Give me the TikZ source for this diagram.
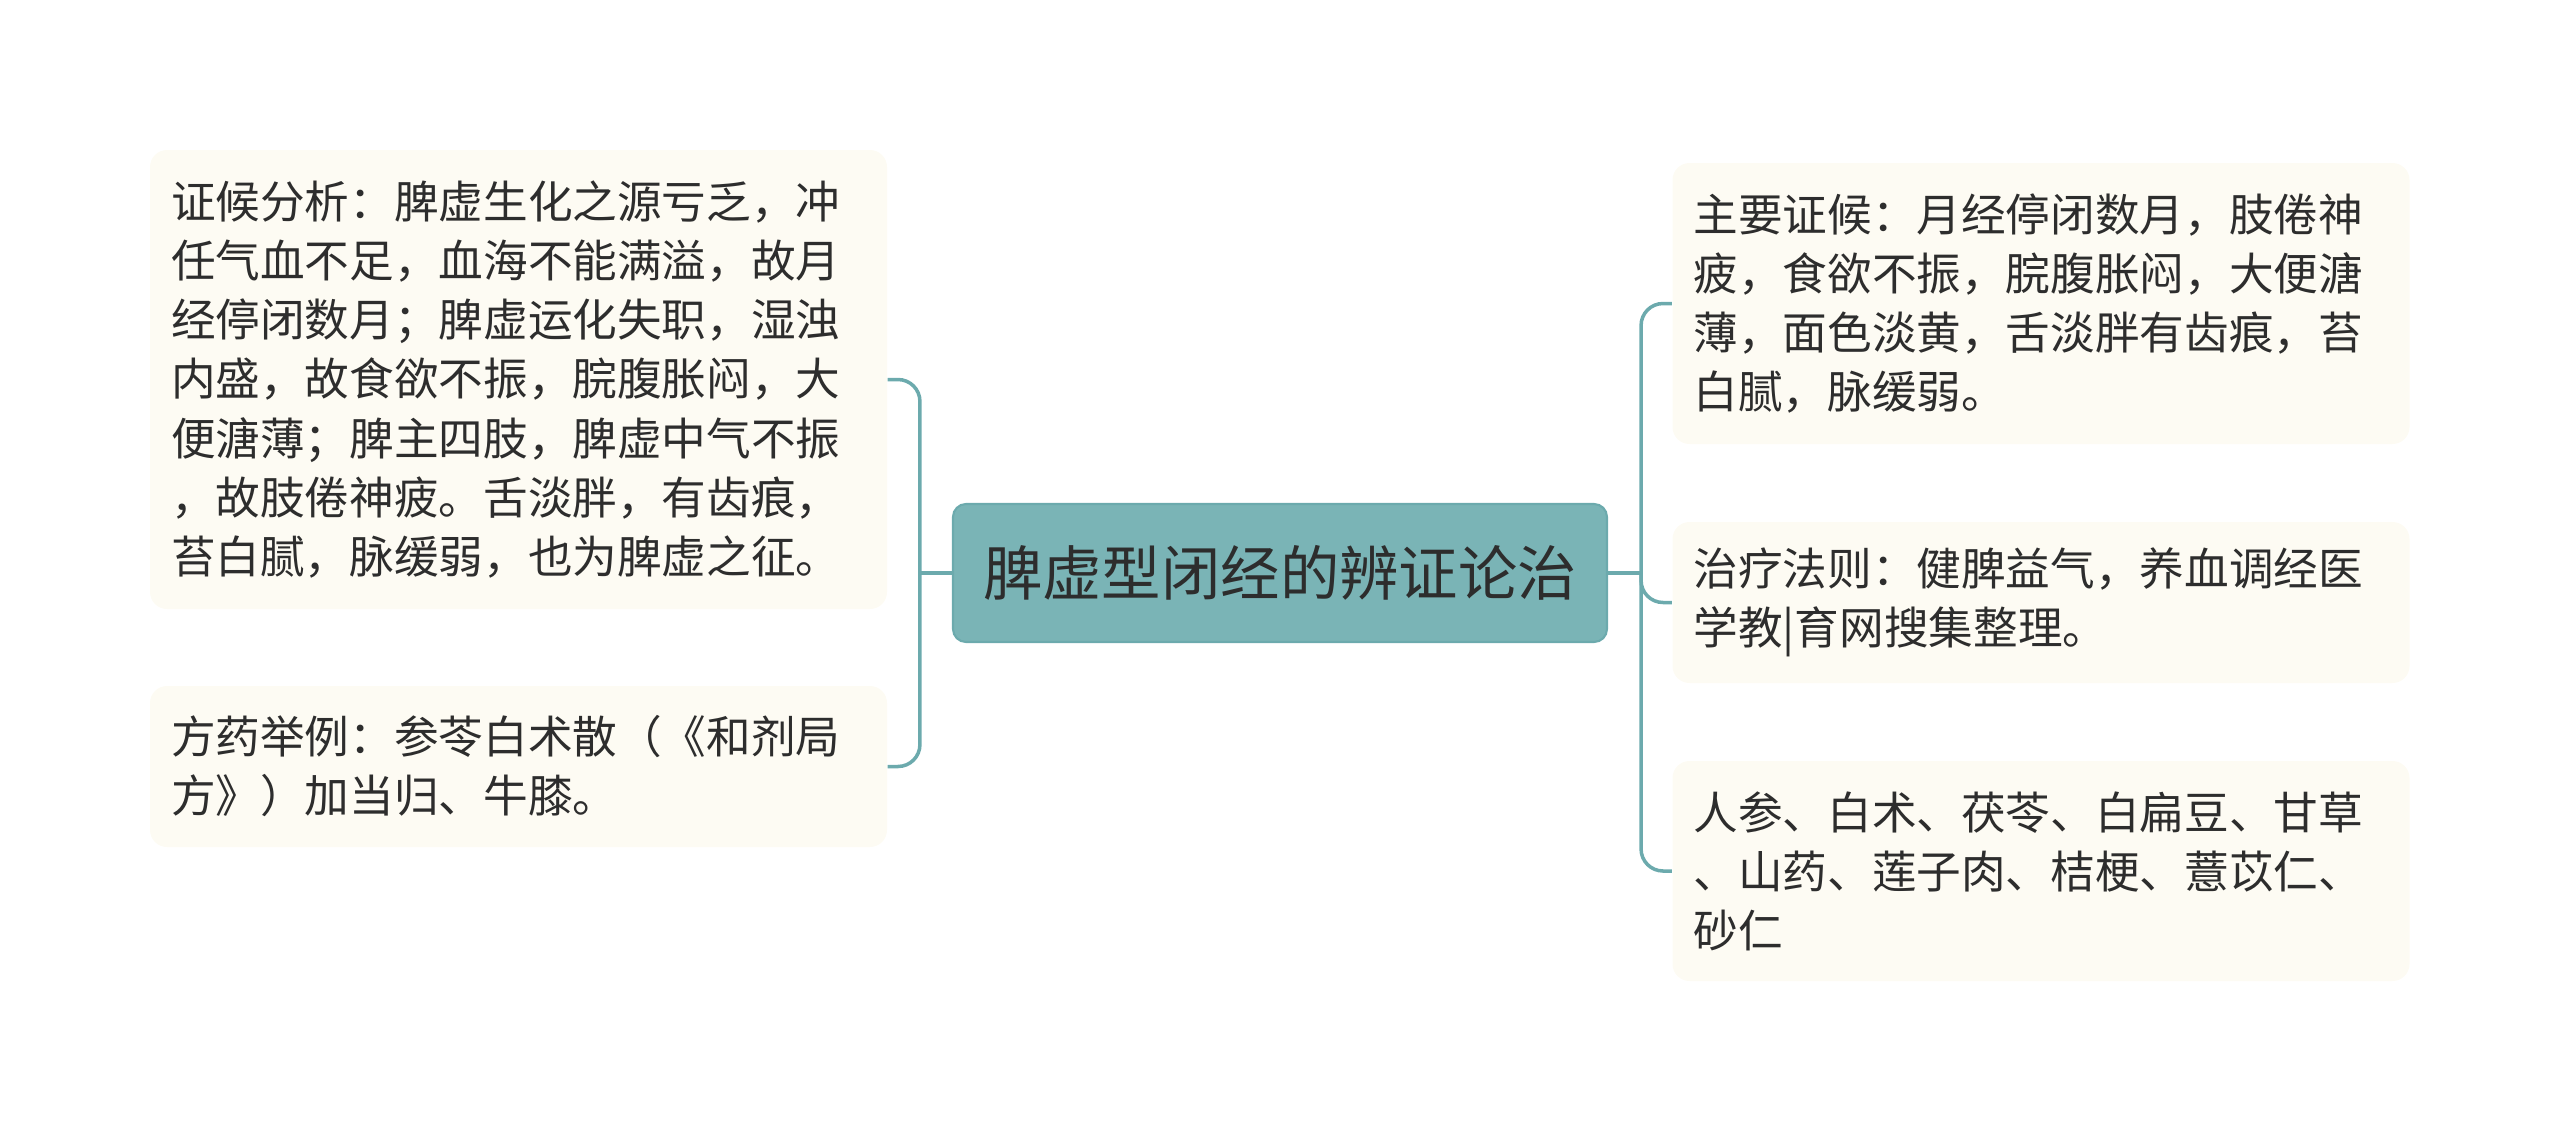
\documentclass[tikz,border=0pt]{standalone}
\usepackage{fontspec}
\setmainfont{Noto Sans CJK SC}
\definecolor{TopicTeal}{RGB}{122, 180, 182}
\definecolor{LinkTeal}{RGB}{108, 170, 173}
\definecolor{LeafCream}{RGB}{253, 251, 243}
\definecolor{InkGray}{RGB}{45, 45, 45}
\usepackage{tikz}
\usetikzlibrary{arrows.meta, calc}

\begin{document}
\begin{tikzpicture}[
    topic/.style={rectangle, rounded corners=0.13cm, fill=TopicTeal, draw=LinkTeal, line width=0.6pt,
        text=InkGray, font=\fontsize{16.9pt}{20pt}\selectfont, minimum width=6.54cm, minimum height=1.38cm},
    leaf/.style={rectangle, rounded corners=0.17cm, fill=LeafCream, text=InkGray,
        font=\fontsize{12.7pt}{16.8pt}\selectfont, text width=6.95cm, inner xsep=0.21cm, align=left},
    link/.style={LinkTeal, line width=1pt, rounded corners=0.22cm}
]
    \useasboundingbox (0,0) rectangle (25.6,-11.31);

    % Main topic
    \node[topic] (main) at (12.80,-5.73) {脾虚型闭经的辨证论治};

    % Left leaves
    \node[leaf, minimum height=4.59cm] (analysis) at (5.185,-3.795)
        {证候分析：脾虚生化之源亏乏，冲\\任气血不足，血海不能满溢，故月\\经停闭数月；脾虚运化失职，湿浊\\内盛，故食欲不振，脘腹胀闷，大\\便溏薄；脾主四肢，脾虚中气不振\\，故肢倦神疲。舌淡胖，有齿痕，\\苔白腻，脉缓弱，也为脾虚之征。};
    \node[leaf, minimum height=1.61cm] (recipe) at (5.185,-7.665)
        {方药举例：参苓白术散（《和剂局\\方》）加当归、牛膝。};

    % Right leaves
    \node[leaf, minimum height=2.81cm] (symptoms) at (20.41,-3.035)
        {主要证候：月经停闭数月，肢倦神\\疲，食欲不振，脘腹胀闷，大便溏\\薄，面色淡黄，舌淡胖有齿痕，苔\\白腻，脉缓弱。};
    \node[leaf, minimum height=1.61cm] (therapy) at (20.41,-6.025)
        {治疗法则：健脾益气，养血调经医\\学教|育网搜集整理。};
    \node[leaf, minimum height=2.20cm] (herbs) at (20.41,-8.71)
        {人参、白术、茯苓、白扁豆、甘草\\、山药、莲子肉、桔梗、薏苡仁、\\砂仁};

    % Left bracket
    \draw[link] (main.west) -- ++(-0.32,0) coordinate (ljoin);
    \draw[link] (ljoin) |- (analysis.east);
    \draw[link] (ljoin) |- (recipe.east);

    % Right bracket
    \draw[link] (main.east) -- ++(0.33,0) coordinate (rjoin);
    \draw[link] (rjoin) |- (symptoms.west);
    \draw[link] (rjoin) |- (therapy.west);
    \draw[link] (rjoin) |- (herbs.west);
\end{tikzpicture}
\end{document}
